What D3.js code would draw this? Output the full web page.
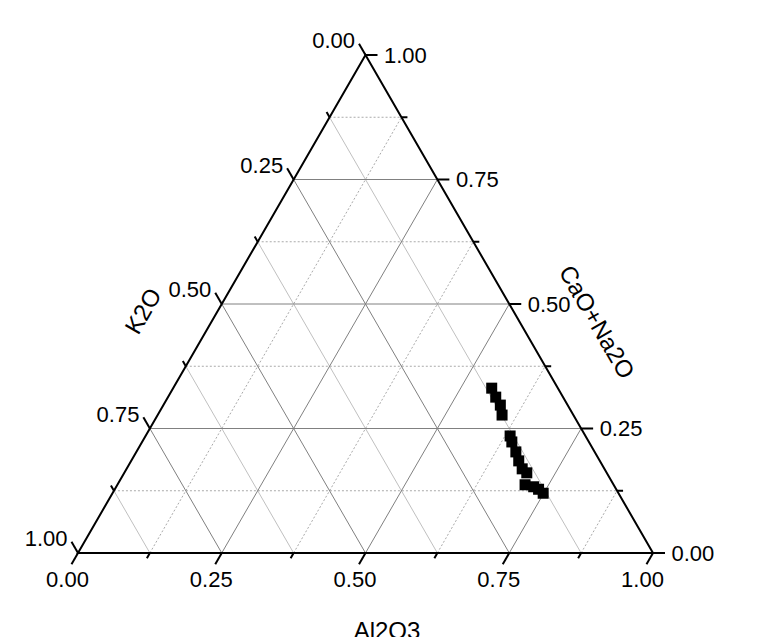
<!DOCTYPE html>
<html>
<head>
<meta charset="utf-8">
<script src="https://cdn.jsdelivr.net/npm/d3@7"></script>
<style>
  body { margin: 0; background: #fff; overflow: hidden; }
  text { font-family: "Liberation Sans", Arial, sans-serif; fill: #000; }
</style>
</head>
<body>
<svg id="chart"></svg>
<script>
var width = 767;
var height = 637;

// data (fractions)
var k2o     = [0.115, 0.117, 0.117, 0.124, 0.131, 0.134, 0.137, 0.141, 0.143, 0.139, 0.154, 0.141, 0.135, 0.131];
var al2o3   = [0.554, 0.570, 0.586, 0.599, 0.634, 0.643, 0.660, 0.674, 0.688, 0.700, 0.709, 0.726, 0.737, 0.749];
var caoNa2o = [0.331, 0.313, 0.297, 0.277, 0.235, 0.223, 0.203, 0.185, 0.169, 0.161, 0.137, 0.133, 0.128, 0.120];

var tickValues = [0, 0.25, 0.5, 0.75, 1];
var minorValues = [0.125, 0.375, 0.625, 0.875];
var tickLabels = ["0.00", "0.25", "0.50", "0.75", "1.00"];
var axisTitles = ["Al2O3", "CaO+Na2O", "K2O"];

var xScale = d3.scaleLinear().domain([0, 1]).range([78, 653]);
var yScale = d3.scaleLinear().domain([0, 1]).range([553, 55]);

// ternary -> screen (a = Al2O3, c = CaO+Na2O)
function pt(a, c) {
  return [xScale(a + c / 2), yScale(c)];
}

var svg = d3.select("#chart")
  .attr("width", width)
  .attr("height", height);

var line = d3.line();

// grid lines
var grid = svg.append("g");
function gridLines(v) {
  return [
    {type: "A", d: [pt(v, 0), pt(v, 1 - v)]},
    {type: "C", d: [pt(0, v), pt(1 - v, v)]},
    {type: "K", d: [pt(1 - v, 0), pt(0, 1 - v)]}
  ];
}
minorValues.forEach(function(v) {
  gridLines(v).forEach(function(g) {
    grid.append("path")
      .attr("d", line(g.d))
      .style("fill", "none")
      .style("stroke", g.type == "K" ? "#c0c0c0" : "#aaaaaa")
      .style("stroke-width", 1)
      .style("stroke-dasharray", g.type == "K" ? null : "2,2");
  });
});
[0.25, 0.5, 0.75].forEach(function(v) {
  gridLines(v).forEach(function(g) {
    grid.append("path")
      .attr("d", line(g.d))
      .style("fill", "none")
      .style("stroke", "#808080")
      .style("stroke-width", 1);
  });
});

// axes
var axes = svg.append("g");
axes.append("path")
  .attr("d", line([pt(0, 0), pt(1, 0), pt(0, 1)]) + "Z")
  .style("fill", "none")
  .style("stroke", "#000")
  .style("stroke-width", 2)
  .style("stroke-linejoin", "miter");

var s60 = Math.sin(Math.PI / 3), c60 = 0.5;
var allTicks = tickValues.map(function(v) { return {v: v, major: true}; })
  .concat(minorValues.map(function(v) { return {v: v, major: false}; }));

// bottom axis: Al2O3
allTicks.forEach(function(t) {
  var p = pt(t.v, 0), len = t.major ? 13 : 6;
  axes.append("line")
    .attr("x1", p[0]).attr("y1", p[1])
    .attr("x2", p[0] - c60 * len).attr("y2", p[1] + s60 * len)
    .style("stroke", "#000").style("stroke-width", 2);
});
// right axis: CaO+Na2O
allTicks.forEach(function(t) {
  var p = pt(1 - t.v, t.v), len = t.major ? 12 : 6;
  axes.append("line")
    .attr("x1", p[0]).attr("y1", p[1])
    .attr("x2", p[0] + len).attr("y2", p[1])
    .style("stroke", "#000").style("stroke-width", 2);
});
// left axis: K2O
allTicks.forEach(function(t) {
  var p = pt(0, 1 - t.v), len = t.major ? 13 : 6;
  axes.append("line")
    .attr("x1", p[0]).attr("y1", p[1])
    .attr("x2", p[0] - c60 * len).attr("y2", p[1] - s60 * len)
    .style("stroke", "#000").style("stroke-width", 2);
});

// tick labels
var labels = svg.append("g").style("font-size", "22px");
tickValues.forEach(function(v, i) {
  var pb = pt(v, 0);
  labels.append("text")
    .attr("x", pb[0] - 10.5).attr("y", pb[1] + 34)
    .attr("text-anchor", "middle")
    .text(tickLabels[i]);
  var pr = pt(1 - v, v);
  labels.append("text")
    .attr("x", pr[0] + 18.5).attr("y", pr[1])
    .attr("dy", "0.35em")
    .text(tickLabels[i]);
  var pl = pt(0, 1 - v);
  labels.append("text")
    .attr("x", pl[0] - 10.5).attr("y", pl[1] - 14.5)
    .attr("dy", "0.35em")
    .attr("text-anchor", "end")
    .text(tickLabels[i]);
});

// axis titles
var titles = svg.append("g").style("font-size", "24px");
titles.append("text")
  .attr("x", 387).attr("y", 639)
  .attr("text-anchor", "middle")
  .text(axisTitles[0]);
titles.append("text")
  .attr("transform", "translate(597,322) rotate(60)")
  .attr("dy", "0.35em")
  .attr("text-anchor", "middle")
  .text(axisTitles[1]);
titles.append("text")
  .attr("transform", "translate(143,311) rotate(-60)")
  .attr("dy", "0.35em")
  .attr("text-anchor", "middle")
  .text(axisTitles[2]);

// data points
var pts = k2o.map(function(k, i) { return {k: k, a: al2o3[i], c: caoNa2o[i]}; });
svg.append("g")
  .selectAll("rect")
  .data(pts)
  .enter()
  .append("rect")
  .attr("x", function(d) { return pt(d.a, d.c)[0] - 5.5; })
  .attr("y", function(d) { return pt(d.a, d.c)[1] - 5.5; })
  .attr("width", 11)
  .attr("height", 11)
  .style("fill", "#000");
</script>
</body>
</html>
